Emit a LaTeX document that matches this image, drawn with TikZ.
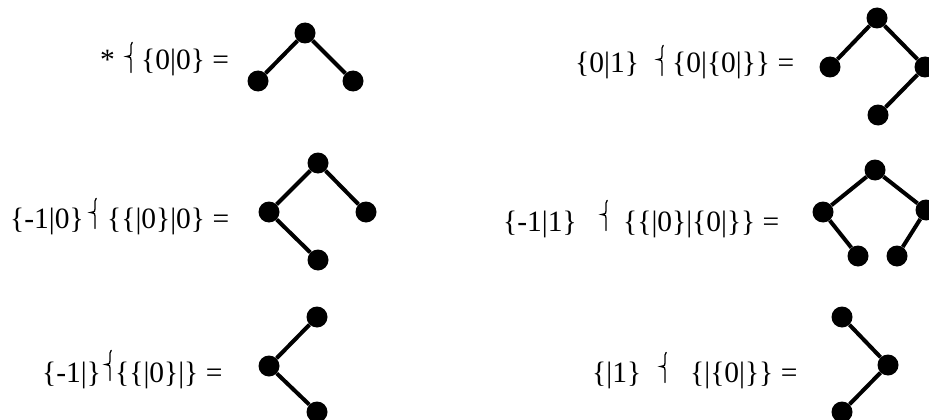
\documentclass[tikz,border=0pt]{standalone}
\usepackage{fontspec}
\setmainfont{Liberation Serif}
\begin{document}
\begin{tikzpicture}[x=1pt,y=-1pt,
  dot/.style={circle,fill=black,inner sep=0pt,minimum size=21pt},
  edge/.style={line width=4pt},
  lbl/.style={anchor=base west,inner sep=0pt,font=\fontsize{29.5}{34}\selectfont},
  halfbrace/.pic={\draw[line width=1.3pt,line cap=round]
     (1.2,-27.5) .. controls (0,-27) .. (0,-25) -- (0,-17)
     .. controls (0,-14.5) .. (-4.5,-13.5)
     .. controls (0,-12.5) .. (0,-10) -- (0,2.5);}]
\useasboundingbox (0,0) rectangle (929,420);

% Row 1 left
\node[lbl] (t1a) at (100,70) {*};
\pic at (131,70) {halfbrace};
\node[lbl] (t1b) at (141,70) {\{0|0\} =};
\node[dot] (a1) at (305,33) {};
\node[dot] (a2) at (258,81) {};
\node[dot] (a3) at (353,81) {};
\draw[edge] (a1) -- (a2);
\draw[edge] (a1) -- (a3);

% Row 1 right
\node[lbl] (t2a) at (575,73) {\{0|1\}};
\pic at (662,73) {halfbrace};
\node[lbl] (t2b) at (672,73) {\{0|\{0|\}\} =};
\node[dot] (b1) at (877,18) {};
\node[dot] (b2) at (830,67) {};
\node[dot] (b3) at (925,67) {};
\node[dot] (b4) at (878,115) {};
\draw[edge] (b1) -- (b2);
\draw[edge] (b1) -- (b3);
\draw[edge] (b3) -- (b4);

% Row 2 left
\node[lbl] (t3a) at (10,228) {\{-1|0\}};
\pic at (95,226) {halfbrace};
\node[lbl] (t3b) at (107,228) {\{\{|0\}|0\} =};
\node[dot] (c1) at (318,163) {};
\node[dot] (c2) at (269,212) {};
\node[dot] (c3) at (366,212) {};
\node[dot] (c4) at (318,260) {};
\draw[edge] (c1) -- (c2);
\draw[edge] (c1) -- (c3);
\draw[edge] (c2) -- (c4);

% Row 2 right
\node[lbl] (t4a) at (503,231) {\{-1|1\}};
\pic at (606,228) {halfbrace};
\node[lbl] (t4b) at (623,231) {\{\{|0\}|\{0|\}\} =};
\node[dot] (d1) at (875,170) {};
\node[dot] (d2) at (823,212) {};
\node[dot] (d3) at (926,210) {};
\node[dot] (d4) at (858,256) {};
\node[dot] (d5) at (897,256) {};
\draw[edge] (d1) -- (d2);
\draw[edge] (d1) -- (d3);
\draw[edge] (d2) -- (d4);
\draw[edge] (d3) -- (d5);

% Row 3 left
\node[lbl] (t5a) at (42,382) {\{-1|\}};
\pic at (110,378) {halfbrace};
\node[lbl] (t5b) at (115,382) {\{\{|0\}|\} =};
\node[dot] (e1) at (317,317) {};
\node[dot] (e2) at (269,366) {};
\node[dot] (e3) at (317,412) {};
\draw[edge] (e1) -- (e2);
\draw[edge] (e2) -- (e3);

% Row 3 right
\node[lbl] (t6a) at (592,382) {\{|1\}};
\pic at (665,380) {halfbrace};
\node[lbl] (t6b) at (690,382) {\{|\{0|\}\} =};
\node[dot] (f1) at (842,317) {};
\node[dot] (f2) at (888,365) {};
\node[dot] (f3) at (842,412) {};
\draw[edge] (f1) -- (f2);
\draw[edge] (f2) -- (f3);
\end{tikzpicture}
\end{document}
